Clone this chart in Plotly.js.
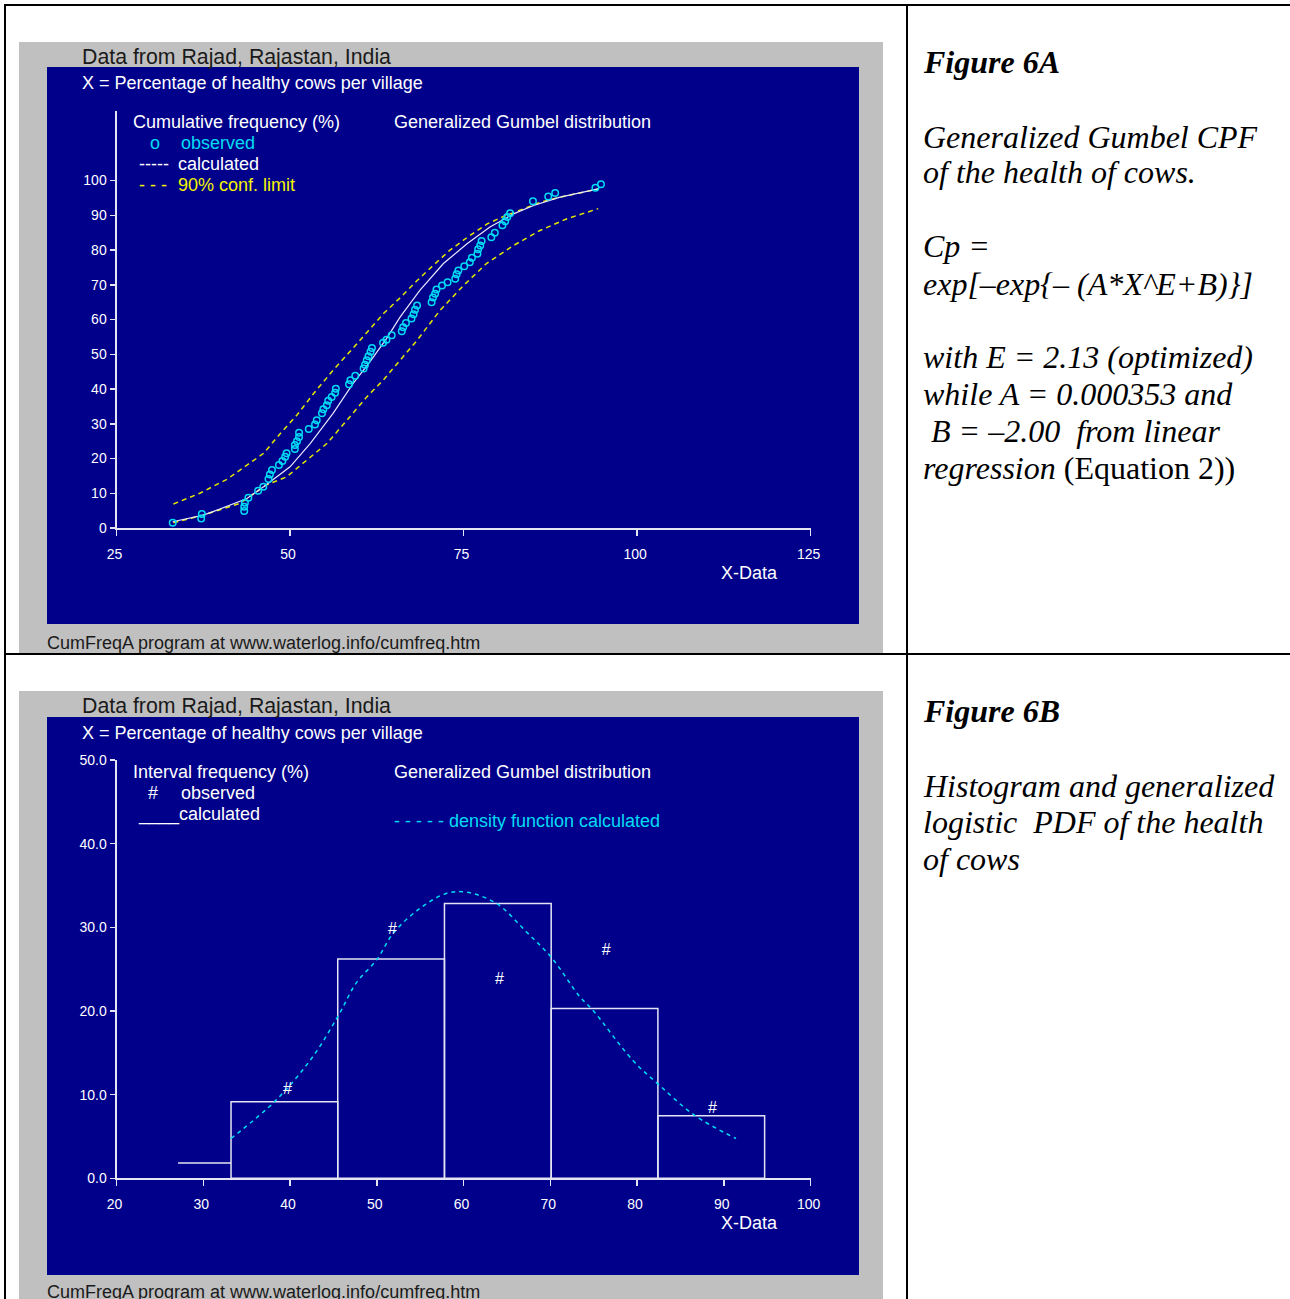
<!DOCTYPE html>
<html>
<head>
<meta charset="utf-8">
<script src="https://cdn.plot.ly/plotly-3.0.1.min.js"></script>
<style>html,body{margin:0;padding:0;background:#fff;}#chart{width:1290px;height:1299px;}</style>
</head>
<body>
<div id="chart"></div>
<script>
// ---------- Figure 6A : cumulative frequency ----------
const obsX = [33.1,37.2,37.3,43.4,43.4,43.5,44.0,45.4,46.15,46.9,47.1,47.4,48.4,48.9,49.3,49.5,50.7,50.7,51.0,51.3,51.3,52.7,53.6,53.85,54.6,54.8,55.3,55.5,56.0,56.5,56.6,58.5,58.7,59.4,60.6,60.8,61.05,61.3,61.6,61.8,63.4,63.9,64.65,66.1,66.3,66.7,67.5,67.8,68.0,68.3,70.4,70.6,70.9,71.1,71.9,72.7,73.8,74.0,74.25,75.1,75.9,76.2,77.0,77.1,77.4,77.6,79.0,79.5,80.6,81.0,81.3,81.7,85.0,87.2,88.2,94.0,94.8];
const obsY = [1.5,2.7,4.0,4.9,6.1,7.3,8.7,10.7,11.9,14.1,15.4,16.7,18.1,19.3,20.5,21.5,22.7,23.9,25.0,26.2,27.4,28.5,29.8,31.0,33.0,34.2,35.3,36.6,37.7,38.9,40.1,41.4,42.5,43.8,45.9,47.0,48.3,49.4,50.7,51.8,53.3,54.2,55.5,56.6,57.8,59.0,60.3,61.5,62.8,64.0,65.0,66.3,67.4,68.6,69.8,70.7,71.7,73.0,74.1,75.3,76.5,77.8,78.9,80.2,81.3,82.6,83.7,85.0,87.1,88.3,89.5,90.6,94.0,95.4,96.4,97.9,98.9];
const calcX = [33.1,37.5,38.9,43.8,46.2,48.1,50.0,52.9,56.2,59.1,61.5,63.9,65.85,68.7,72.1,75.5,78.8,82.2,85.1,88.9,92.3,94.4];
const calcY = [1.8,3.7,4.7,8.5,11.9,14.7,17.6,24.3,33.0,41.6,47.8,54.5,60.7,68.4,76.1,81.8,86.6,90.4,92.8,95.2,96.6,97.6];
const upX = [33.2,37.0,40.9,43.8,46.2,48.6,51.0,53.4,56.2,58.6,61.3,63.5,65.9,68.2,70.6,73.0,75.8,78.4,80.7,83.1,86.0,88.9,92.3,94.5];
const upY = [6.9,10.0,14.0,18.1,21.5,27.2,32.5,38.7,45.4,50.7,56.9,61.8,66.3,71.0,75.5,79.9,84.0,87.5,89.6,91.5,93.7,95.2,96.6,97.6];
const loX = [33.2,37.5,42.8,46.6,49.5,51.9,55.3,58.2,61.05,63.4,65.85,68.3,71.6,75.0,78.3,82.2,86.0,89.9,94.4];
const loY = [1.5,3.7,7.1,12.4,14.7,18.6,24.3,31.0,37.7,42.5,48.3,54.0,62.6,69.8,76.1,81.3,85.6,89.0,91.9];
const topXTicks = [25,50,75,100,125];
const topYTicks = [0,10,20,30,40,50,60,70,80,90,100];

// ---------- Figure 6B : interval frequency ----------
const binEdges = [33.2,45.5,57.8,70.1,82.4,94.7];
const binCalc = [9.15,26.2,32.85,20.3,7.47];
const lowBinX = [27.1,33.2];
const lowBinY = [1.83,1.83];
const hashX = [39.7,51.8,64.15,76.45,88.7];
const hashY = [10.55,29.7,23.66,27.2,8.27];
const densX = [33.2,38.4,42.6,45.6,47.6,50.05,51.9,54.9,58.0,60.3,63.8,67.2,70.2,73.4,74.9,79.5,82.55,86.6,91.4];
const densY = [4.76,9.35,14.5,19.5,23.3,26.2,29.3,32.2,34.05,34.2,32.85,29.5,26.3,21.7,20.1,14.1,11.15,7.55,4.76];
const botXTicks = [20,30,40,50,60,70,80,90,100];
const botYTicks = [0,10,20,30,40,50];

// ---------- helpers ----------
const W = 1290, H = 1299;
const px = x => x / W;
const py = y => 1 - y / H;
const NAVY = '#00008b', GRAY = '#c0c0c0', AX = '#e4e4f4';
const CYAN = '#00dcf4', YEL = '#e6e600';
const SANS = 'Liberation Sans, Arial, sans-serif';
const SERIF = 'Liberation Serif, Times New Roman, serif';

const barCenters = binCalc.map((_, i) => (binEdges[i] + binEdges[i + 1]) / 2);
const barWidths = binCalc.map((_, i) => binEdges[i + 1] - binEdges[i]);

const traces = [
  {x: upX, y: upY, xaxis: 'x', yaxis: 'y', mode: 'lines', line: {color: YEL, width: 1.5, dash: '5px,4px'}},
  {x: loX, y: loY, xaxis: 'x', yaxis: 'y', mode: 'lines', line: {color: YEL, width: 1.5, dash: '5px,4px'}},
  {x: calcX, y: calcY, xaxis: 'x', yaxis: 'y', mode: 'lines', line: {color: '#e8e8ff', width: 1.2}},
  {x: obsX, y: obsY, xaxis: 'x', yaxis: 'y', mode: 'markers',
   marker: {symbol: 'circle-open', size: 6.5, color: CYAN, line: {color: CYAN, width: 1.5}}},
  {type: 'bar', x: barCenters, y: binCalc, width: barWidths, xaxis: 'x2', yaxis: 'y2',
   marker: {color: 'rgba(0,0,0,0)', line: {color: AX, width: 1.5}}},
  {x: lowBinX, y: lowBinY, xaxis: 'x2', yaxis: 'y2', mode: 'lines', line: {color: AX, width: 1.5}},
  {x: densX, y: densY, xaxis: 'x2', yaxis: 'y2', mode: 'lines', line: {color: CYAN, width: 1.5, dash: '4px,4px', shape: 'spline'}},
  {x: hashX, y: hashY, xaxis: 'x2', yaxis: 'y2', mode: 'text', text: hashX.map(() => '#'),
   textposition: 'middle center', textfont: {family: SANS, size: 16, color: '#ffffff'}}
];

const axisCommon = {
  showline: true, linecolor: AX, linewidth: 2, showgrid: false, zeroline: false,
  ticks: 'outside', tickcolor: AX, tickwidth: 1.5, fixedrange: true,
  tickfont: {family: SANS, size: 14, color: '#ffffff'}
};

const shapes = [];
function rect(x0, y0, x1, y1, color) {
  shapes.push({type: 'rect', xref: 'paper', yref: 'paper', x0: px(x0), x1: px(x1), y0: py(y1), y1: py(y0),
    fillcolor: color, line: {width: 0}, layer: 'below'});
}
function hline(x0, x1, y, w) {
  shapes.push({type: 'line', xref: 'paper', yref: 'paper', x0: px(x0), x1: px(x1), y0: py(y), y1: py(y),
    line: {color: '#000', width: w}, layer: 'above'});
}
function vline(x, y0, y1, w) {
  shapes.push({type: 'line', xref: 'paper', yref: 'paper', x0: px(x), x1: px(x), y0: py(y0), y1: py(y1),
    line: {color: '#000', width: w}, layer: 'above'});
}
rect(19, 42, 883, 654, GRAY);
rect(47, 67, 859, 624, NAVY);
rect(19, 691, 883, 1299, GRAY);
rect(47, 717, 859, 1275, NAVY);
hline(4, 1290, 5, 2);
hline(4, 1290, 654, 2);
vline(5, 4, 1299, 2);
vline(907, 4, 1299, 2);

const annotations = [];
function txt(x, y, text, size, color, family) {
  annotations.push({xref: 'paper', yref: 'paper', x: px(x - 2.5), y: py(y), text: text, showarrow: false,
    xanchor: 'left', yanchor: 'middle', font: {family: family || SANS, size: size, color: color}});
}
const FS = 18;
// chart A texts
txt(82, 57, 'Data from Rajad, Rajastan, India', 21.3, '#1a1a1a');
txt(82, 83, 'X = Percentage of healthy cows per village', FS, '#ffffff');
txt(133, 122, 'Cumulative frequency (%)', FS, '#ffffff');
txt(150, 143, 'o', FS, CYAN);
txt(181, 143, 'observed', FS, CYAN);
txt(139, 164, '-----', FS, '#ffffff');
txt(178, 164, 'calculated', FS, '#ffffff');
txt(139, 185, '- - -', FS, '#f4f400');
txt(178, 185, '90% conf. limit', FS, '#f4f400');
txt(394, 122, 'Generalized Gumbel distribution', FS, '#ffffff');
txt(721, 573, 'X-Data', FS, '#ffffff');
txt(47, 643, 'CumFreqA program at www.waterlog.info/cumfreq.htm', FS, '#1a1a1a');
// chart B texts
txt(82, 706, 'Data from Rajad, Rajastan, India', 21.3, '#1a1a1a');
txt(82, 733, 'X = Percentage of healthy cows per village', FS, '#ffffff');
txt(133, 772, 'Interval frequency (%)', FS, '#ffffff');
txt(148, 793, '#', FS, '#ffffff');
txt(181, 793, 'observed', FS, '#ffffff');
txt(138, 814, '____calculated', FS, '#ffffff');
txt(394, 772, 'Generalized Gumbel distribution', FS, '#ffffff');
txt(394, 821, '- - - - - density function calculated', FS, CYAN);
txt(721, 1223, 'X-Data', FS, '#ffffff');
txt(47, 1292, 'CumFreqA program at www.waterlog.info/cumfreq.htm', FS, '#1a1a1a');
// right column
const RS = 32;
txt(923, 62, '<b><i>Figure 6A</i></b>', RS, '#000', SERIF);
txt(923, 137, '<i>Generalized Gumbel CPF</i>', RS, '#000', SERIF);
txt(923, 172, '<i>of the health of cows.</i>', RS, '#000', SERIF);
txt(923, 246, '<i>Cp =</i>', RS, '#000', SERIF);
txt(923, 284, '<i>exp[–exp{– (A*X^E+B)}]</i>', RS, '#000', SERIF);
txt(923, 357, '<i>with E = 2.13 (optimized)</i>', RS, '#000', SERIF);
txt(923, 394, '<i>while A = 0.000353 and</i>', RS, '#000', SERIF);
txt(931, 431, '<i>B = –2.00  from linear</i>', RS, '#000', SERIF);
txt(923, 468, '<i>regression</i> (Equation 2))', RS, '#000', SERIF);
txt(923, 711, '<b><i>Figure 6B</i></b>', RS, '#000', SERIF);
txt(923, 786, '<i>Histogram and generalized</i>', RS, '#000', SERIF);
txt(923, 822, '<i>logistic  PDF of the health</i>', RS, '#000', SERIF);
txt(923, 859, '<i>of cows</i>', RS, '#000', SERIF);

const layout = {
  width: W, height: H, margin: {l: 0, r: 0, t: 0, b: 0},
  paper_bgcolor: '#ffffff', plot_bgcolor: 'rgba(0,0,0,0)',
  showlegend: false, hovermode: false, bargap: 0,
  xaxis: Object.assign({}, axisCommon, {domain: [px(116.5), px(810.6)], range: [25, 125],
    tickvals: topXTicks, ticklen: 6, ticklabelstandoff: 6, ticklabelshift: -2, anchor: 'y'}),
  yaxis: Object.assign({}, axisCommon, {domain: [py(528), py(111)], range: [0, 120],
    tickvals: topYTicks, ticklen: 5, anchor: 'x'}),
  xaxis2: Object.assign({}, axisCommon, {domain: [px(116.5), px(810.6)], range: [20, 100],
    tickvals: botXTicks, ticklen: 6, ticklabelstandoff: 6, ticklabelshift: -2, anchor: 'y2'}),
  yaxis2: Object.assign({}, axisCommon, {domain: [py(1178.3), py(760)], range: [0, 50],
    tickvals: botYTicks, tickformat: '.1f', ticklen: 5, anchor: 'x2'}),
  shapes: shapes, annotations: annotations
};

Plotly.newPlot('chart', traces, layout, {staticPlot: true, displayModeBar: false});
</script>
</body>
</html>
